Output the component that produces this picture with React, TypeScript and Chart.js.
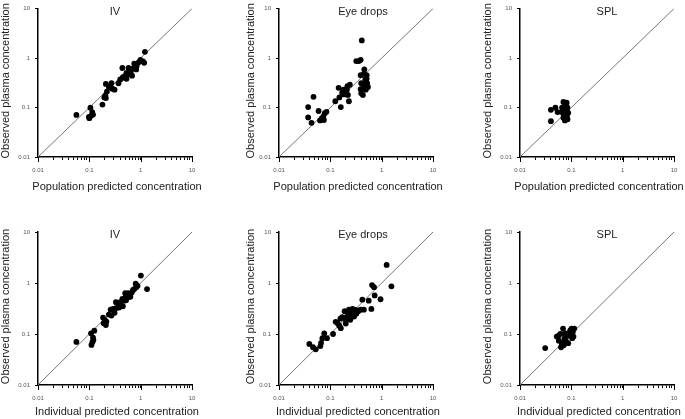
import React, { useEffect, useRef } from 'react';
import { Chart, registerables } from 'chart.js';

Chart.register(...registerables);

const FONT = "'Liberation Sans', Arial, sans-serif";

// Axis ticks (both axes, log scale)
const tickValues = [0.01, 0.1, 1, 10];
const tickLabels = ['0.01', '0.1', '1', '10'];
const minorMultipliers = [2, 3, 4, 5, 6, 7, 8, 9];

// Panel titles / axis titles
const panelTitles = ['IV', 'Eye drops', 'SPL'];
const popXTitle = 'Population predicted concentration';
const indXTitle = 'Individual predicted concentration';
const yTitle = 'Observed plasma concentration';

// Identity line ends
const identityLine = [0.01, 10];

// --- IV, population predicted ---
const ivPopPred = [0.056, 0.105, 0.10, 0.108, 0.118, 0.114, 0.098, 0.18, 0.21, 0.205, 0.21, 0.22, 0.196, 0.28, 0.27, 0.31, 0.24, 0.37, 0.44, 0.48, 0.50, 0.53, 0.58, 0.60, 0.52, 0.64, 0.68, 0.75, 0.79, 0.84, 0.91, 0.99, 1.11, 1.17, 1.21, 0.82, 0.71, 0.40, 0.45, 0.53];
const ivPopObs = [0.071, 0.099, 0.061, 0.068, 0.072, 0.081, 0.065, 0.115, 0.30, 0.175, 0.155, 0.21, 0.16, 0.24, 0.31, 0.23, 0.26, 0.31, 0.63, 0.40, 0.44, 0.38, 0.63, 0.47, 0.42, 0.52, 0.44, 0.77, 0.66, 0.70, 0.82, 0.92, 0.86, 0.80, 1.34, 0.59, 0.61, 0.37, 0.41, 0.50];

// --- Eye drops, population predicted ---
const eyePopPred = [0.037, 0.037, 0.043, 0.047, 0.059, 0.063, 0.068, 0.073, 0.078, 0.084, 0.075, 0.125, 0.145, 0.15, 0.16, 0.17, 0.18, 0.195, 0.215, 0.22, 0.23, 0.24, 0.21, 0.18, 0.32, 0.36, 0.39, 0.41, 0.39, 0.40, 0.39, 0.40, 0.43, 0.46, 0.45, 0.48, 0.49, 0.49, 0.51, 0.52, 0.44, 0.54, 0.46, 0.51];
const eyePopObs = [0.102, 0.063, 0.049, 0.165, 0.085, 0.055, 0.060, 0.066, 0.077, 0.082, 0.056, 0.134, 0.25, 0.16, 0.102, 0.20, 0.23, 0.185, 0.27, 0.18, 0.134, 0.29, 0.23, 0.185, 0.87, 0.87, 0.92, 2.27, 0.45, 0.31, 0.235, 0.195, 0.18, 0.59, 0.48, 0.37, 0.29, 0.23, 0.45, 0.31, 0.25, 0.26, 0.30, 0.38];

// --- SPL, population predicted ---
const splPopPred = [0.040, 0.040, 0.049, 0.054, 0.065, 0.070, 0.075, 0.081, 0.066, 0.071, 0.075, 0.077, 0.084, 0.082, 0.073, 0.079, 0.084, 0.075, 0.070, 0.082, 0.087];
const splPopObs = [0.090, 0.053, 0.099, 0.081, 0.081, 0.13, 0.12, 0.125, 0.10, 0.071, 0.064, 0.057, 0.058, 0.068, 0.088, 0.108, 0.10, 0.055, 0.062, 0.085, 0.078];

// --- IV, individual predicted ---
const ivIndPred = [0.056, 0.108, 0.11, 0.115, 0.12, 0.125, 0.118, 0.185, 0.19, 0.21, 0.20, 0.215, 0.24, 0.26, 0.27, 0.29, 0.31, 0.33, 0.33, 0.36, 0.40, 0.44, 0.45, 0.48, 0.51, 0.50, 0.54, 0.57, 0.59, 0.63, 0.67, 0.71, 0.75, 0.80, 0.87, 0.82, 1.01, 1.33, 0.52, 0.38];
const ivIndObs = [0.070, 0.103, 0.061, 0.070, 0.076, 0.116, 0.085, 0.21, 0.163, 0.15, 0.19, 0.175, 0.24, 0.30, 0.23, 0.31, 0.26, 0.32, 0.42, 0.40, 0.42, 0.49, 0.35, 0.45, 0.53, 0.63, 0.58, 0.63, 0.53, 0.54, 0.65, 0.73, 0.76, 0.97, 0.88, 0.83, 1.40, 0.76, 0.46, 0.33];

// --- Eye drops, individual predicted ---
const eyeIndPred = [0.039, 0.046, 0.052, 0.064, 0.066, 0.07, 0.076, 0.086, 0.113, 0.127, 0.14, 0.15, 0.16, 0.157, 0.17, 0.19, 0.20, 0.21, 0.22, 0.23, 0.24, 0.245, 0.26, 0.27, 0.28, 0.29, 0.30, 0.32, 0.33, 0.35, 0.39, 0.42, 0.45, 0.56, 0.63, 0.65, 0.71, 0.73, 0.95, 1.25, 1.55, 0.29, 0.25, 0.20];
const eyeIndObs = [0.064, 0.055, 0.050, 0.058, 0.067, 0.083, 0.103, 0.083, 0.10, 0.173, 0.16, 0.145, 0.13, 0.20, 0.215, 0.28, 0.19, 0.22, 0.27, 0.30, 0.23, 0.19, 0.25, 0.31, 0.23, 0.27, 0.30, 0.25, 0.29, 0.28, 0.30, 0.47, 0.30, 0.45, 0.31, 0.91, 0.83, 0.57, 0.48, 2.26, 0.86, 0.22, 0.21, 0.16];

// --- SPL, individual predicted ---
const splIndPred = [0.031, 0.052, 0.057, 0.063, 0.065, 0.061, 0.069, 0.073, 0.071, 0.077, 0.079, 0.084, 0.089, 0.095, 0.101, 0.107, 0.110, 0.104, 0.114, 0.087, 0.056, 0.067, 0.075];
const splIndObs = [0.053, 0.089, 0.074, 0.055, 0.066, 0.10, 0.128, 0.08, 0.06, 0.089, 0.072, 0.10, 0.092, 0.117, 0.128, 0.11, 0.089, 0.083, 0.128, 0.066, 0.092, 0.063, 0.104];

const isDecade = (v: number) => Math.abs(Math.log10(v) - Math.round(Math.log10(v))) < 1e-9;
const labelFor = (v: number) => {
  const i = tickValues.findIndex((t) => Math.abs(t - v) / t < 1e-9);
  return i >= 0 ? tickLabels[i] : '';
};
const xTickValues = (() => {
  const out: number[] = [];
  for (let d = 0; d < tickValues.length - 1; d++) {
    out.push(tickValues[d]);
    minorMultipliers.forEach((m) => out.push(tickValues[d] * m));
  }
  out.push(tickValues[tickValues.length - 1]);
  return out;
})();

type PanelProps = {
  left: number; top: number; width: number; height: number;
  padTop: number; padRight: number; yWidth: number; xHeight: number;
  xTitleDy: number; yTitleDx: number; title: string; titleDx: number; xTitle: string;
  xs: number[]; ys: number[];
};

function Panel(p: PanelProps) {
  const ref = useRef<HTMLCanvasElement>(null);
  useEffect(() => {
    if (!ref.current) return;
    const textPlugin = {
      id: 'panelText',
      afterDraw(chart: any) {
        const { ctx, chartArea } = chart;
        const cx = (chartArea.left + chartArea.right) / 2;
        const cy = (chartArea.top + chartArea.bottom) / 2;
        ctx.save();
        ctx.font = `11px ${FONT}`;
        ctx.fillStyle = '#222';
        ctx.textAlign = 'center';
        ctx.textBaseline = 'middle';
        // panel title
        ctx.fillText(p.title, cx + p.titleDx, chartArea.top + 3);
        // x axis title
        ctx.fillText(p.xTitle, cx + 2, chartArea.bottom + p.xTitleDy);
        // y axis title
        ctx.save();
        ctx.translate(chartArea.left + p.yTitleDx, cy - 2);
        ctx.rotate(-Math.PI / 2);
        ctx.fillText(yTitle, 0, 0);
        ctx.restore();
        // longer major ticks on x axis
        const sx = chart.scales.x;
        ctx.strokeStyle = '#000';
        ctx.lineWidth = 1;
        tickValues.forEach((v) => {
          const px = Math.round(sx.getPixelForValue(v)) + 0.5;
          ctx.beginPath();
          ctx.moveTo(px, chartArea.bottom);
          ctx.lineTo(px, chartArea.bottom + 5);
          ctx.stroke();
        });
        ctx.restore();
      },
    };
    const chart = new Chart(ref.current, {
      type: 'scatter',
      data: {
        datasets: [
          {
            data: p.xs.map((x, i) => ({ x, y: p.ys[i] })),
            pointRadius: 2.9,
            pointHoverRadius: 2.9,
            backgroundColor: '#000',
            borderColor: '#000',
            borderWidth: 0,
            order: 1,
          },
          {
            data: identityLine.map((v) => ({ x: v, y: v })),
            showLine: true,
            pointRadius: 0,
            borderColor: '#777',
            borderWidth: 1,
            order: 2,
          },
        ],
      },
      plugins: [textPlugin],
      options: {
        responsive: false,
        animation: false,
        events: [],
        layout: { padding: { top: p.padTop, right: p.padRight, left: 0, bottom: 0 } },
        plugins: { legend: { display: false }, tooltip: { enabled: false }, title: { display: false } },
        scales: {
          x: {
            type: 'logarithmic',
            position: 'bottom',
            min: 0.01,
            max: 10,
            afterFit: (s: any) => { s.height = p.xHeight; },
            afterBuildTicks: (s: any) => { s.ticks = xTickValues.map((v) => ({ value: v, major: isDecade(v) })); },
            ticks: {
              autoSkip: false,
              maxRotation: 0,
              minRotation: 0,
              padding: 7,
              font: { size: 6, family: FONT },
              color: '#555',
              callback: (v: any) => labelFor(Number(v)),
            },
            grid: { drawOnChartArea: false, tickLength: 3, tickColor: '#000', tickWidth: 1, color: '#000' },
            border: { display: true, color: '#000', width: 1.5 },
            title: { display: false },
          },
          y: {
            type: 'logarithmic',
            position: 'left',
            min: 0.01,
            max: 10,
            afterFit: (s: any) => { s.width = p.yWidth; },
            afterBuildTicks: (s: any) => { s.ticks = tickValues.map((v) => ({ value: v, major: true })); },
            ticks: {
              autoSkip: false,
              padding: 5,
              font: { size: 6, family: FONT },
              color: '#555',
              callback: (v: any) => labelFor(Number(v)),
            },
            grid: { drawOnChartArea: false, tickLength: 3, tickColor: '#000', tickWidth: 1, color: '#000' },
            border: { display: true, color: '#000', width: 1.5 },
            title: { display: false },
          },
        },
      } as any,
    });
    return () => chart.destroy();
  }, []);
  return (
    <canvas
      ref={ref}
      width={p.width}
      height={p.height}
      style={{ position: 'absolute', left: p.left, top: p.top, width: p.width, height: p.height }}
    />
  );
}

const cols = [
  { left: 0, width: 244, yWidth: 38, padRight: 52, titleDx: 0, yTitleDx: -32 },
  { left: 244, width: 237, yWidth: 35, padRight: 48, titleDx: 7, yTitleDx: -28 },
  { left: 481, width: 204, yWidth: 39, padRight: 11, titleDx: 10, yTitleDx: -32 },
];
const rows = [
  { top: 0, height: 205, padTop: 4, xHeight: 48, xTitleDy: 30, xTitle: popXTitle },
  { top: 205, height: 214, padTop: 27, xHeight: 34, xTitleDy: 27, xTitle: indXTitle },
];
const seriesX = [[ivPopPred, eyePopPred, splPopPred], [ivIndPred, eyeIndPred, splIndPred]];
const seriesY = [[ivPopObs, eyePopObs, splPopObs], [ivIndObs, eyeIndObs, splIndObs]];

export default function App() {
  return (
    <div style={{ position: 'absolute', left: 0, top: 0, width: 685, height: 419, background: '#fff', overflow: 'hidden' }}>
      {rows.map((r, ri) =>
        cols.map((c, ci) => (
          <Panel
            key={`${ri}-${ci}`}
            left={c.left}
            top={r.top}
            width={c.width}
            height={r.height}
            padTop={r.padTop}
            padRight={c.padRight}
            yWidth={c.yWidth}
            xHeight={r.xHeight}
            xTitleDy={r.xTitleDy}
            yTitleDx={c.yTitleDx}
            title={panelTitles[ci]}
            titleDx={c.titleDx}
            xTitle={r.xTitle}
            xs={seriesX[ri][ci]}
            ys={seriesY[ri][ci]}
          />
        ))
      )}
    </div>
  );
}
